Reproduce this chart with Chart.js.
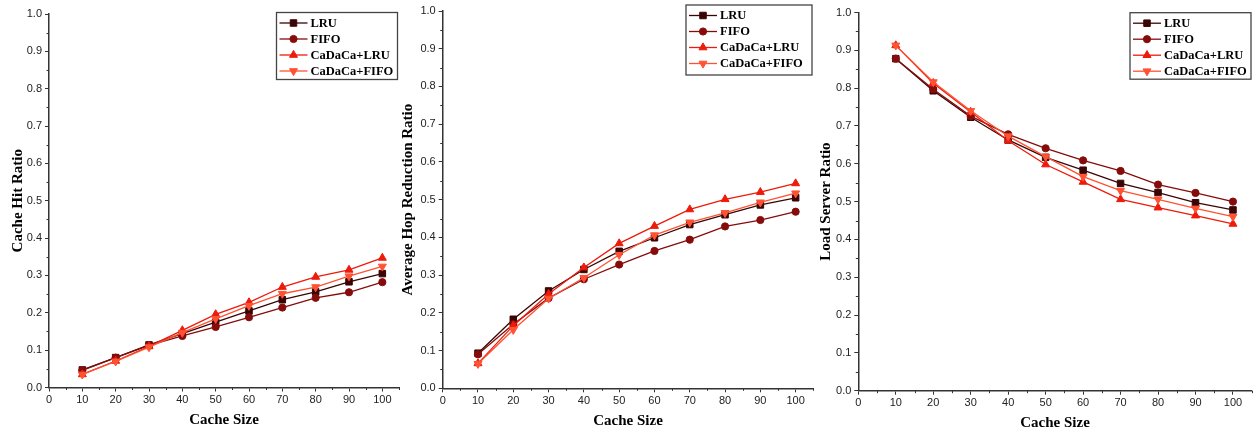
<!DOCTYPE html>
<html lang="en">
<head>
  <meta charset="UTF-8">
  <title>Cache Size Comparison</title>
  <script src="https://cdn.jsdelivr.net/npm/chart.js"></script>
  <style>
    body { margin: 0; background: #fff; }
    .wrap { position: relative; width: 1260px; height: 435px; }
    .wrap canvas { position: absolute; top: 0; }
  </style>
</head>
<body>
  <div class="wrap">
    <canvas id="hit" width="420" height="435" style="left:0"></canvas>
    <canvas id="hop" width="435" height="435" style="left:395px"></canvas>
    <canvas id="load" width="450" height="435" style="left:810px"></canvas>
  </div>

  <script>
    // Data
    const cacheSizes = [10, 20, 30, 40, 50, 60, 70, 80, 90, 100];
    const seriesNames = ['LRU', 'FIFO', 'CaDaCa+LRU', 'CaDaCa+FIFO'];

    const hitLRU    = [0.047, 0.080, 0.114, 0.144, 0.175, 0.205, 0.235, 0.256, 0.283, 0.305];
    const hitFIFO   = [0.046, 0.080, 0.113, 0.138, 0.162, 0.188, 0.214, 0.240, 0.255, 0.282];
    const hitCaLRU  = [0.035, 0.071, 0.110, 0.153, 0.196, 0.228, 0.269, 0.296, 0.315, 0.347];
    const hitCaFIFO = [0.035, 0.070, 0.108, 0.147, 0.184, 0.219, 0.251, 0.269, 0.298, 0.324];

    const hopLRU    = [0.093, 0.183, 0.258, 0.315, 0.363, 0.399, 0.434, 0.460, 0.486, 0.505];
    const hopFIFO   = [0.090, 0.170, 0.239, 0.289, 0.328, 0.364, 0.394, 0.429, 0.446, 0.468];
    const hopCaLRU  = [0.066, 0.166, 0.250, 0.320, 0.384, 0.430, 0.474, 0.501, 0.520, 0.543];
    const hopCaFIFO = [0.065, 0.155, 0.238, 0.293, 0.354, 0.406, 0.440, 0.465, 0.493, 0.517];

    const loadLRU    = [0.878, 0.793, 0.723, 0.663, 0.617, 0.583, 0.548, 0.524, 0.497, 0.478];
    const loadFIFO   = [0.878, 0.797, 0.726, 0.678, 0.641, 0.609, 0.581, 0.545, 0.523, 0.500];
    const loadCaLRU  = [0.913, 0.813, 0.737, 0.661, 0.598, 0.552, 0.506, 0.484, 0.463, 0.441];
    const loadCaFIFO = [0.913, 0.816, 0.740, 0.673, 0.619, 0.566, 0.529, 0.506, 0.482, 0.460];

    const xTickValues = [0, 10, 20, 30, 40, 50, 60, 70, 80, 90, 100];
    const yTickValues = [0, 0.1, 0.2, 0.3, 0.4, 0.5, 0.6, 0.7, 0.8, 0.9, 1.0];
    const yTickLabels = ['0.0', '0.1', '0.2', '0.3', '0.4', '0.5', '0.6', '0.7', '0.8', '0.9', '1.0'];

    // line colour, marker shape and rotation per series
    const styles = [
      { color: '#3a0505', point: 'rect',     rot: 0,   r: 4.6 },
      { color: '#860c0c', point: 'circle',   rot: 0,   r: 3.6 },
      { color: '#ee1a0a', point: 'triangle', rot: 0,   r: 4.6 },
      { color: '#ff5233', point: 'triangle', rot: 180, r: 4.6 }
    ];

    const axisColor = '#333';
    const tickFont = { family: '"Liberation Sans", Arial, sans-serif', size: 11 };
    const titleFont = { family: '"Liberation Serif", "Times New Roman", serif', size: 15, weight: 'bold' };

    // short ticks half way between the labelled ones
    const minorTicks = {
      id: 'minorTicks',
      afterDraw(chart) {
        const ctx = chart.ctx;
        const xs = chart.scales.x, ys = chart.scales.y;
        ctx.save();
        ctx.strokeStyle = axisColor;
        ctx.lineWidth = 1;
        ctx.beginPath();
        for (let v = 5; v <= xs.max; v += 10) {
          const px = Math.round(xs.getPixelForValue(v)) + 0.5;
          ctx.moveTo(px, ys.bottom);
          ctx.lineTo(px, ys.bottom + 2.5);
        }
        for (let v = 0.05; v < ys.max; v += 0.1) {
          const py = Math.round(ys.getPixelForValue(v)) + 0.5;
          ctx.moveTo(xs.left, py);
          ctx.lineTo(xs.left - 2.5, py);
        }
        ctx.stroke();
        ctx.restore();
      }
    };

    // framed legend with a line and marker sample for each series
    const boxLegend = {
      id: 'boxLegend',
      afterDatasetsDraw(chart, args, opts) {
        const ctx = chart.ctx;
        ctx.save();
        ctx.fillStyle = '#fff';
        ctx.fillRect(opts.x, opts.y, opts.w, opts.h);
        ctx.strokeStyle = '#444';
        ctx.lineWidth = 1.3;
        ctx.strokeRect(opts.x, opts.y, opts.w, opts.h);
        chart.data.datasets.forEach((ds, i) => {
          const y = opts.y + 10.5 + i * 16;
          ctx.strokeStyle = ds.borderColor;
          ctx.lineWidth = 1.3;
          ctx.beginPath();
          ctx.moveTo(opts.x + 3, y);
          ctx.lineTo(opts.x + 31, y);
          ctx.stroke();
          ctx.fillStyle = ds.pointBackgroundColor;
          ctx.strokeStyle = ds.pointBorderColor;
          ctx.lineWidth = 1;
          Chart.helpers.drawPoint(ctx, {
            pointStyle: ds.pointStyle, rotation: ds.pointRotation,
            radius: ds.pointRadius, borderWidth: 1
          }, opts.x + 17, y);
          ctx.fillStyle = '#000';
          ctx.font = 'bold 12.5px "Liberation Serif", "Times New Roman", serif';
          ctx.textBaseline = 'middle';
          ctx.textAlign = 'left';
          ctx.fillText(ds.label, opts.x + 34, y + 0.5);
        });
        ctx.restore();
      }
    };

    function buildChart(id, series, yTitle, geo) {
      const datasets = series.map((vals, i) => ({
        label: seriesNames[i],
        data: cacheSizes.map((c, k) => ({ x: c, y: vals[k] })),
        borderColor: styles[i].color,
        backgroundColor: styles[i].color,
        pointBackgroundColor: styles[i].color,
        pointBorderColor: styles[i].color,
        pointStyle: styles[i].point,
        pointRotation: styles[i].rot,
        pointRadius: styles[i].r,
        pointBorderWidth: 1,
        borderWidth: 1.3,
        tension: 0,
        order: 4 - i
      }));

      return new Chart(document.getElementById(id), {
        type: 'line',
        data: { datasets },
        options: {
          responsive: false,
          animation: false,
          layout: { padding: { left: 0, top: geo.top, right: geo.right, bottom: 0 } },
          plugins: {
            legend: { display: false },
            tooltip: { enabled: false },
            boxLegend: geo.legend
          },
          scales: {
            x: {
              type: 'linear',
              min: 0,
              max: 105,
              afterBuildTicks: s => { s.ticks = xTickValues.map(v => ({ value: v })); },
              afterFit: s => { s.height = geo.xh; },
              ticks: { font: tickFont, color: '#222', padding: 2, maxRotation: 0, autoSkip: false },
              grid: { drawOnChartArea: false, tickLength: 4, tickColor: axisColor, tickWidth: 1 },
              border: { color: axisColor, width: 1.5 },
              title: { display: true, text: 'Cache Size', font: titleFont, color: '#000', padding: geo.xtp }
            },
            y: {
              min: 0,
              max: 1,
              afterBuildTicks: s => { s.ticks = yTickValues.map(v => ({ value: v })); },
              afterFit: s => { s.width = geo.yw; },
              ticks: { font: tickFont, color: '#222', padding: 3, autoSkip: false,
                       callback: (v, i) => yTickLabels[i] },
              grid: { drawOnChartArea: false, tickLength: 4, tickColor: axisColor, tickWidth: 1 },
              border: { color: axisColor, width: 1.5 },
              title: { display: true, text: yTitle, font: titleFont, color: '#000', padding: geo.ytp }
            }
          }
        },
        plugins: [minorTicks, boxLegend]
      });
    }

    buildChart('hit', [hitLRU, hitFIFO, hitCaLRU, hitCaFIFO], 'Cache Hit Ratio',
      { top: 14, right: 21, yw: 49, xh: 47.5, ytp: 9, xtp: 6,
        legend: { x: 276.5, y: 12.5, w: 121, h: 67 } });

    buildChart('hop', [hopLRU, hopFIFO, hopCaLRU, hopCaFIFO], 'Average Hop Reduction Ratio',
      { top: 11, right: 16.7, yw: 47.7, xh: 46.7, ytp: 4, xtp: 5,
        legend: { x: 291, y: 5, w: 126, h: 70 } });

    buildChart('load', [loadLRU, loadFIFO, loadCaLRU, loadCaFIFO], 'Load Server Ratio',
      { top: 12.5, right: 8.3, yw: 48.3, xh: 44.3, ytp: 7, xtp: 3,
        legend: { x: 320, y: 12.7, w: 121, h: 66.5 } });
  </script>
</body>
</html>
